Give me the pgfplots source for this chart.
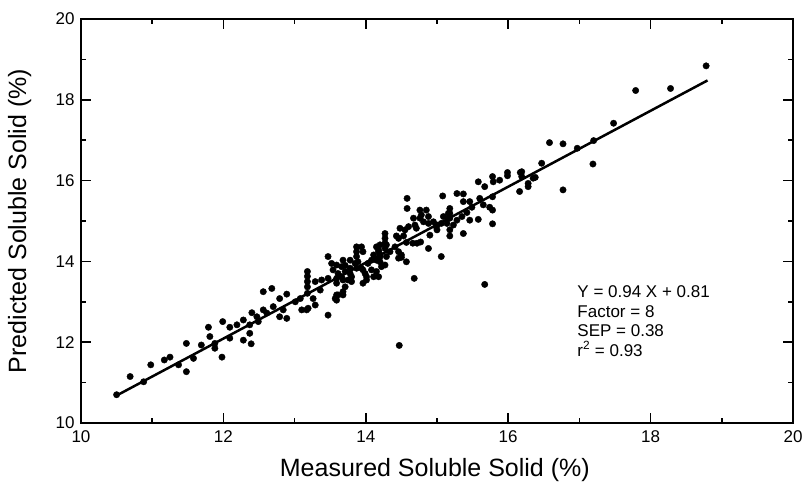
\documentclass[border=0pt]{standalone}
\usepackage{fontspec}
\setmainfont{Liberation Sans}
\usepackage{pgfplots}
\pgfplotsset{compat=1.18}

\pgfplotstableread{
x y
10.50 10.70
10.69 11.15
10.88 11.02
10.98 11.44
11.17 11.56
11.25 11.63
11.37 11.44
11.48 11.27
11.48 11.97
11.58 11.60
11.69 11.93
11.79 12.37
11.81 12.14
11.88 11.85
11.88 11.97
11.99 12.51
11.98 11.63
12.09 12.10
12.09 12.37
12.19 12.43
12.28 12.55
12.28 12.05
12.37 12.22
12.39 11.96
12.40 12.73
12.37 12.43
12.47 12.63
12.49 12.51
12.56 12.80
12.56 13.25
12.61 12.72
12.68 13.33
12.70 12.88
12.79 12.63
12.79 13.08
12.84 12.80
12.89 12.59
12.89 13.19
13.01 13.00
13.08 13.08
13.10 12.80
13.17 12.80
13.19 12.84
13.18 13.75
13.18 13.63
13.18 13.50
13.18 13.37
13.18 13.21
13.26 13.08
13.29 13.50
13.29 12.92
13.36 13.29
13.38 13.54
13.47 14.12
13.47 13.58
13.47 12.67
13.52 13.95
13.54 13.79
13.57 13.08
13.59 13.91
13.59 13.46
13.59 13.58
13.59 13.17
13.59 13.04
13.61 13.70
13.61 13.17
13.66 13.62
13.66 13.87
13.68 14.03
13.68 13.54
13.68 13.25
13.68 13.17
13.71 13.75
13.71 13.37
13.71 13.90
13.75 13.54
13.78 14.03
13.78 13.83
13.78 13.70
13.80 13.62
13.80 13.50
13.85 13.95
13.87 14.36
13.87 14.24
13.87 14.12
13.87 13.83
13.89 13.99
13.94 14.36
13.94 13.83
13.96 14.24
13.96 13.79
13.96 13.46
13.99 13.70
14.01 13.62
14.01 13.54
14.03 13.95
14.08 14.03
14.08 13.79
14.11 14.16
14.11 13.62
14.15 14.36
14.15 14.03
14.15 13.75
14.18 14.24
14.18 13.62
14.18 14.28
14.20 14.41
14.20 14.12
14.20 13.99
14.20 14.16
14.22 13.87
14.27 14.69
14.27 14.57
14.27 14.45
14.27 14.32
14.27 13.91
14.29 14.41
14.29 14.12
14.34 14.24
14.41 14.36
14.43 14.63
14.46 14.57
14.46 14.24
14.46 14.08
14.47 11.92
14.48 14.82
14.50 14.16
14.50 14.10
14.53 14.63
14.55 14.78
14.57 14.47
14.57 13.99
14.58 15.56
14.58 15.31
14.60 14.86
14.66 14.45
14.67 15.07
14.68 13.58
14.69 14.90
14.71 14.82
14.72 14.45
14.76 15.27
14.76 15.07
14.77 14.48
14.78 15.15
14.81 14.98
14.85 15.27
14.88 15.11
14.88 14.94
14.88 14.32
14.90 14.65
14.95 14.98
14.99 14.86
15.00 14.90
15.00 14.78
15.06 14.94
15.06 14.12
15.08 15.62
15.09 15.11
15.14 14.94
15.16 15.19
15.16 15.07
15.18 15.31
15.18 15.19
15.18 15.07
15.18 14.78
15.18 14.63
15.23 14.90
15.28 15.68
15.28 15.02
15.35 15.11
15.37 15.67
15.37 15.48
15.37 14.69
15.42 15.21
15.46 15.48
15.46 15.02
15.49 15.34
15.58 15.97
15.58 15.04
15.60 15.56
15.65 15.40
15.67 15.85
15.67 13.43
15.74 15.34
15.78 16.10
15.79 15.97
15.78 15.60
15.78 15.27
15.78 14.93
15.88 16.01
15.99 16.20
15.99 16.12
16.16 15.73
16.17 16.20
16.19 16.22
16.19 16.10
16.28 15.93
16.28 15.85
16.35 16.06
16.38 16.08
16.47 16.43
16.58 16.94
16.77 16.91
16.77 15.77
16.97 16.80
17.19 16.41
17.20 16.99
17.48 17.42
17.79 18.23
18.28 18.28
18.78 18.84
}\brixdata

\begin{document}
\begin{tikzpicture}
\useasboundingbox (-81pt,-69pt) rectangle (723pt,423pt);
\begin{axis}[
    scale only axis,
    width=712pt, height=404pt,
    xmin=10, xmax=20, ymin=10, ymax=20,
    xtick={10,12,...,20}, ytick={10,12,...,20},
    minor tick num=1,
    tick align=inside,
    major tick length=10pt, minor tick length=5pt,
    tick style={line width=1.5pt, black},
    axis line style={line width=2.5pt},
    tick label style={font=\fontsize{17}{19}\selectfont},
    xticklabel style={yshift=-4pt},
    yticklabel style={xshift=-3pt},
    /pgf/number format/assume math mode=true,
    xlabel={Measured Soluble Solid (\%)},
    ylabel={Predicted Soluble Solid (\%)},
    label style={font=\fontsize{25}{28}\selectfont},
    xlabel style={at={(axis description cs:0.497,-0.116)}, anchor=center},
    ylabel style={at={(axis description cs:-0.086,0.5)}, anchor=center},
    clip=false,
]
\addplot[only marks, mark=*, mark size=3.2pt, black] table {\brixdata};
\addplot[no markers, line width=2.5pt, black] coordinates {(10.5,10.68) (18.8,18.48)};
\node[anchor=north west, inner sep=0pt, align=left,
      font=\fontsize{17}{19.5}\selectfont] at (axis cs:16.97,13.40)
    {Y = 0.94 X + 0.81\\Factor = 8\\SEP = 0.38\\r\textsuperscript{2} = 0.93};
\end{axis}
\end{tikzpicture}
\end{document}
